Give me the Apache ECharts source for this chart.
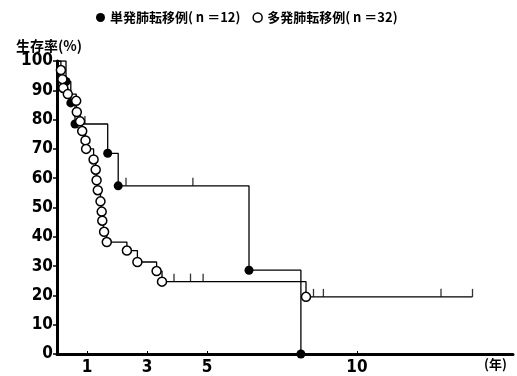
<!DOCTYPE html>
<html>
<head>
<meta charset="utf-8">
<script src="https://cdn.jsdelivr.net/npm/echarts@6/dist/echarts.min.js"></script>
<style>
    html, body { margin: 0; padding: 0; background: #fff; }
    #chart { width: 517px; height: 376px; }
</style>
</head>
<body>
<div id="chart"></div>
<script>
    // 単発肺転移例 (n=12): time (years), survival (%)
    var singleName = '単発肺転移例( n ＝12)';
    var singleT = [0, 0.3, 0.46, 0.6, 1.69, 2.04, 6.4, 8.13];
    var singleS = [100, 93, 85.7, 78.5, 68.5, 57.4, 28.6, 0];
    var singleCensT = [0.93, 2.3, 4.53];
    var singleCensS = [78.5, 57.4, 57.4];

    // 多発肺転移例 (n=32)
    var multiName = '多発肺転移例( n ＝32)';
    var multiT = [0, 0.13, 0.18, 0.21, 0.36, 0.64, 0.66, 0.77, 0.84, 0.95, 0.97, 1.22, 1.29, 1.32, 1.36, 1.45, 1.49, 1.51, 1.57, 1.66, 2.33, 2.68, 3.32, 3.5, 8.3, 13.85];
    var multiS = [100, 96.9, 93.8, 90.8, 88.7, 86.4, 82.6, 79.4, 76.1, 72.9, 70.0, 66.4, 62.9, 59.3, 55.9, 52.1, 48.6, 45.5, 41.7, 38.2, 35.3, 31.4, 28.3, 24.7, 19.5, 19.5];
    var multiCensT = [3.9, 4.45, 4.87, 8.55, 8.88, 12.8, 13.85];
    var multiCensS = [24.7, 24.7, 24.7, 19.5, 19.5, 19.5, 19.5];

    var xLabels = [1, 3, 5, 10];

    var font = "'Liberation Sans Narrow', 'DejaVu Sans Condensed', 'Liberation Sans', sans-serif";
    var cjk = "'Noto Sans CJK JP', sans-serif";

    function toData(ts, ss, lastPlain) {
        var out = [];
        for (var i = 0; i < ts.length; i++) {
            var item = {value: [ts[i], ss[i]]};
            if (i === 0 || (lastPlain && i === ts.length - 1)) {
                item.symbol = 'none';
            }
            out.push(item);
        }
        return out;
    }

    function pairs(ts, ss) {
        var out = [];
        for (var i = 0; i < ts.length; i++) {
            out.push([ts[i], ss[i]]);
        }
        return out;
    }

    var chart = echarts.init(document.getElementById('chart'));
    chart.setOption({
        animation: false,
        backgroundColor: '#fff',
        grid: {left: 57, right: 4, top: 61, bottom: 21},
        legend: {
            top: 6,
            left: 91,
            itemGap: 12,
            itemWidth: 9,
            itemHeight: 9,
            textStyle: {fontFamily: cjk, fontWeight: 'bold', fontSize: 13, color: '#000'},
            data: [
                {name: singleName, icon: 'circle', itemStyle: {color: '#000'}},
                {name: multiName, icon: 'circle', itemStyle: {color: '#fff', borderColor: '#000', borderWidth: 1.5}}
            ]
        },
        graphic: [{
            type: 'text',
            left: 484,
            top: 358,
            style: {text: '(年)', font: 'bold 13px ' + cjk, fill: '#000'}
        }],
        xAxis: {
            type: 'value',
            min: 0,
            max: 15.2,
            splitLine: {show: false},
            axisLine: {lineStyle: {color: '#000', width: 3}},
            axisTick: {show: true, inside: true, length: 3, customValues: xLabels, lineStyle: {color: '#000'}},
            axisLabel: {
                customValues: xLabels,
                margin: 5,
                fontFamily: font, fontWeight: 'bold', fontSize: 17, color: '#000'
            }
        },
        yAxis: {
            type: 'value',
            min: 0,
            max: 100,
            interval: 10,
            name: '生存率(%)',
            nameGap: 8,
            nameTextStyle: {fontFamily: cjk, fontWeight: 'bold', fontSize: 14, color: '#000', padding: [0, 16, 0, 0]},
            splitLine: {show: false},
            axisLine: {lineStyle: {color: '#000', width: 3}},
            axisTick: {show: true, length: 4, lineStyle: {color: '#000', width: 1.5}},
            axisLabel: {margin: 4, fontFamily: font, fontWeight: 'bold', fontSize: 17, color: '#000'}
        },
        series: [
            {
                name: singleName,
                type: 'line',
                step: 'end',
                data: toData(singleT, singleS, false),
                symbol: 'circle',
                symbolSize: 9,
                showAllSymbol: true,
                lineStyle: {color: '#000', width: 1.3},
                itemStyle: {color: '#000'},
                z: 3
            },
            {
                name: multiName,
                type: 'line',
                step: 'end',
                data: toData(multiT, multiS, true),
                symbol: 'circle',
                symbolSize: 9,
                showAllSymbol: true,
                lineStyle: {color: '#000', width: 1.3},
                itemStyle: {color: '#fff', borderColor: '#000', borderWidth: 1.5},
                z: 4
            },
            {
                name: 'single-censored',
                type: 'scatter',
                data: pairs(singleCensT, singleCensS),
                symbol: 'rect',
                symbolSize: [1.3, 8],
                symbolOffset: [0, -4],
                itemStyle: {color: '#000'}
            },
            {
                name: 'multi-censored',
                type: 'scatter',
                data: pairs(multiCensT, multiCensS),
                symbol: 'rect',
                symbolSize: [1.3, 8],
                symbolOffset: [0, -4],
                itemStyle: {color: '#000'}
            }
        ]
    });
</script>
</body>
</html>
